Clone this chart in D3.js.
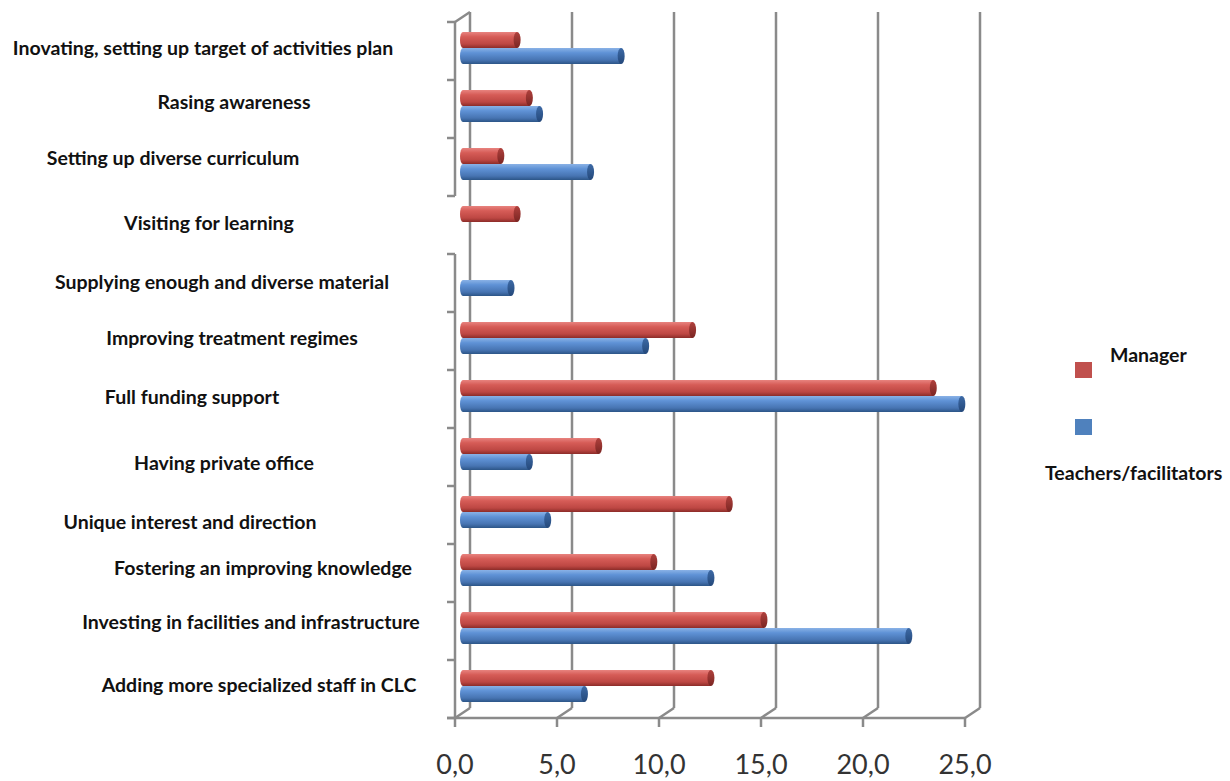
<!DOCTYPE html>
<html><head><meta charset="utf-8">
<script src="https://cdn.jsdelivr.net/npm/d3@7"></script>
<style>body{margin:0;background:#fff}svg{display:block}</style>
</head><body>
<script>
const categories = [
  "Inovating, setting up target of activities plan",
  "Rasing awareness",
  "Setting up diverse curriculum",
  "Visiting for learning",
  "Supplying enough and diverse material",
  "Improving treatment regimes",
  "Full funding support",
  "Having private office",
  "Unique interest and direction",
  "Fostering an improving knowledge",
  "Investing in facilities and infrastructure",
  "Adding more specialized staff in CLC"
];
const manager  = [2.8, 3.4, 2.0, 2.8, 0, 11.4, 23.2, 6.8, 13.2, 9.5, 14.9, 12.3];
const teachers = [7.9, 3.9, 6.4, 0, 2.5, 9.1, 24.6, 3.4, 4.3, 12.3, 22.0, 6.1];
const seriesNames = ["Manager", "Teachers/facilitators"];
const tickValues = [0, 5, 10, 15, 20, 25];
// layout only: horizontal centre and vertical nudge of each category label
const labelCenters = [203, 234, 173, 209, 222, 232, 192, 224, 190, 263, 251, 259];
const labelNudge = [-4, -8, -10, -3, -2, -4, -3, 5, 6, -6, -10, -5];

const W = 1230, H = 781;
const svg = d3.select("body").append("svg").attr("width", W).attr("height", H);
const defs = svg.append("defs");
function grad(id, stops){
  const g = defs.append("linearGradient").attr("id", id).attr("x1",0).attr("y1",0).attr("x2",0).attr("y2",1);
  stops.forEach(s => g.append("stop").attr("offset", s[0]).attr("stop-color", s[1]));
}
grad("gRed", [[0,"#e8837f"],[0.3,"#d65c57"],[0.75,"#bd4743"],[1,"#8c2c29"]]);
grad("gBlue", [[0,"#8ab2e6"],[0.3,"#5f92d6"],[0.75,"#4774b2"],[1,"#2c5587"]]);
grad("gRedCap", [[0,"#b0413d"],[1,"#7a2522"]]);
grad("gBlueCap", [[0,"#3d6aa6"],[1,"#24487a"]]);

const x = d3.scaleLinear().domain([0, 25]).range([455, 965]);
const y = d3.scaleBand().domain(categories).range([22, 718]);
const dx = 15, dy = -10;           // depth offset of back wall
const bx = 5, by = -3;             // bars sit mid-depth
const gridCol = "#8a8a8a";

// back wall gridlines
svg.append("g").selectAll("line").data(tickValues).join("line")
  .attr("x1", d => x(d) + dx).attr("x2", d => x(d) + dx)
  .attr("y1", 22 + dy).attr("y2", 718 + dy)
  .attr("stroke", gridCol).attr("stroke-width", 2.5);
// floor diagonals
svg.append("g").selectAll("line").data(tickValues).join("line")
  .attr("x1", d => x(d)).attr("x2", d => x(d) + dx)
  .attr("y1", 718).attr("y2", 718 + dy)
  .attr("stroke", gridCol).attr("stroke-width", 2.5);
// floor front edge
svg.append("line").attr("x1", x(0) - 8).attr("x2", x(25)).attr("y1", 718).attr("y2", 718)
  .attr("stroke", gridCol).attr("stroke-width", 2.5);
// bottom ticks
svg.append("g").selectAll("line").data(tickValues).join("line")
  .attr("x1", d => x(d)).attr("x2", d => x(d)).attr("y1", 718).attr("y2", 727)
  .attr("stroke", gridCol).attr("stroke-width", 2.5);
// left wall front edge (broken around the "Visiting for learning" band, as in the source)
const gapCat = categories[3];
svg.append("line").attr("x1", x(0)).attr("x2", x(0)).attr("y1", y(categories[0])).attr("y2", y(gapCat))
  .attr("stroke", gridCol).attr("stroke-width", 2.5);
svg.append("line").attr("x1", x(0)).attr("x2", x(0)).attr("y1", y(gapCat) + y.bandwidth()).attr("y2", 718)
  .attr("stroke", gridCol).attr("stroke-width", 2.5);
svg.append("line").attr("x1", x(0)).attr("x2", x(0) + dx).attr("y1", y(categories[0])).attr("y2", y(categories[0]) + dy)
  .attr("stroke", gridCol).attr("stroke-width", 2.5);
// category ticks
const bounds = categories.map(c => y(c)).concat([718]);
svg.append("g").selectAll("line").data(bounds).join("line")
  .attr("x1", x(0) - 8).attr("x2", x(0)).attr("y1", d => d).attr("y2", d => d)
  .attr("stroke", gridCol).attr("stroke-width", 2.5);

// bars
const bh = 16;
function drawBars(vals, offset, fill, cap){
  const g = svg.append("g");
  const data = vals.map((v, i) => ({v, c: categories[i]})).filter(d => d.v > 0);
  const cy = d => y(d.c) + y.bandwidth() / 2 + by + offset;
  g.selectAll("ellipse.s").data(data).join("ellipse").attr("class", "s")
    .attr("cx", x(0) + bx + 3).attr("cy", cy).attr("rx", 3).attr("ry", bh / 2)
    .attr("fill", `url(#${fill})`);
  g.selectAll("rect").data(data).join("rect")
    .attr("x", x(0) + bx + 3).attr("y", d => cy(d) - bh / 2)
    .attr("width", d => Math.max(0, x(d.v) - x(0) - 3)).attr("height", bh)
    .attr("fill", `url(#${fill})`);
  g.selectAll("ellipse.e").data(data).join("ellipse").attr("class", "e")
    .attr("cx", d => x(d.v) + bx).attr("cy", cy).attr("rx", 3.5).attr("ry", bh / 2)
    .attr("fill", `url(#${cap})`);
}
drawBars(manager, -bh / 2, "gRed", "gRedCap");
drawBars(teachers, bh / 2, "gBlue", "gBlueCap");

// category labels
svg.append("g").selectAll("text").data(categories).join("text")
  .attr("x", (d, i) => labelCenters[i])
  .attr("y", (d, i) => y(d) + y.bandwidth() / 2 + labelNudge[i])
  .attr("text-anchor", "middle").attr("dominant-baseline", "central")
  .attr("font-family", "Lato, 'Open Sans', sans-serif").attr("font-weight", 700)
  .attr("font-size", 19.5).attr("fill", "#111")
  .text(d => d);

// value tick labels
svg.append("g").selectAll("text").data(tickValues).join("text")
  .attr("x", d => x(d)).attr("y", 774)
  .attr("text-anchor", "middle")
  .attr("font-family", "Lato, 'Open Sans', sans-serif").attr("font-size", 27).attr("fill", "#333")
  .text(d => d3.format(".1f")(d).replace(".", ","));

// legend
const lg = svg.append("g");
lg.append("rect").attr("x", 1075).attr("y", 362).attr("width", 17).attr("height", 16).attr("fill", "#c0504d");
lg.append("rect").attr("x", 1075).attr("y", 419).attr("width", 17).attr("height", 16).attr("fill", "#4f81bd");
lg.append("text").attr("x", 1110).attr("y", 362).text(seriesNames[0])
  .attr("font-family", "Lato, sans-serif").attr("font-weight", 700).attr("font-size", 19.5).attr("fill", "#111");
lg.append("text").attr("x", 1045).attr("y", 480).text(seriesNames[1])
  .attr("font-family", "Lato, sans-serif").attr("font-weight", 700).attr("font-size", 19.5).attr("fill", "#111");
</script>
</body></html>
